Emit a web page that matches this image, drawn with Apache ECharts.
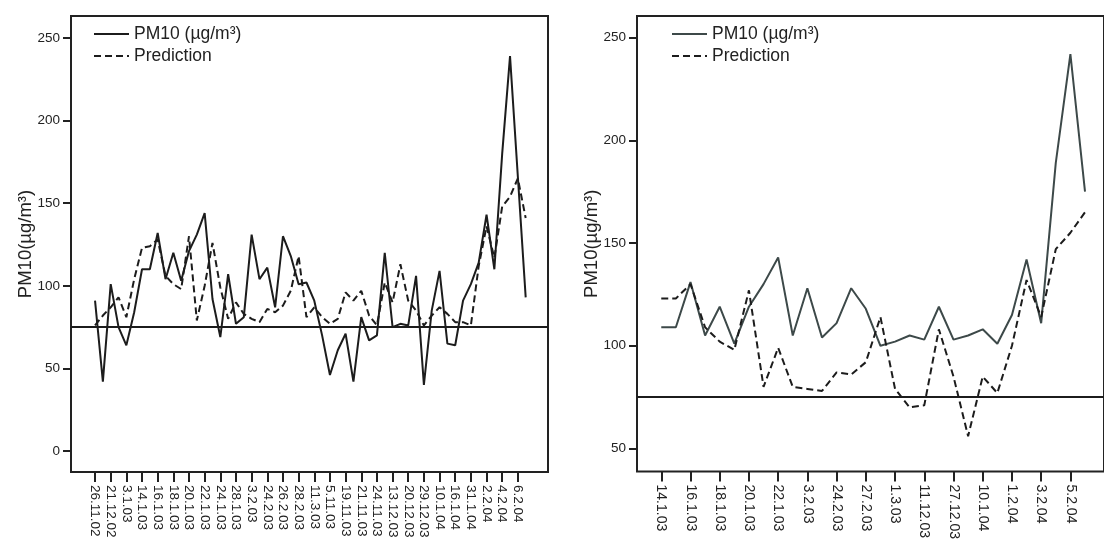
<!DOCTYPE html>
<html>
<head>
<meta charset="utf-8">
<script src="https://cdn.jsdelivr.net/npm/echarts@6/dist/echarts.min.js"></script>
<style>
html,body{margin:0;padding:0;background:#fff;}
#c{width:1104px;height:542px;}
</style>
</head>
<body>
<div id="c"></div>
<script>
// ---------- data ----------
const leftLabels = ['26.11.02','21.12.02','3.1.03','14.1.03','16.1.03','18.1.03','20.1.03','22.1.03','24.1.03','28.1.03','3.2.03','24.2.03','26.2.03','28.2.03','11.3.03','5.11.03','19.11.03','21.11.03','24.11.03','13.12.03','20.12.03','29.12.03','10.1.04','16.1.04','31.1.04','2.2.04','4.2.04','6.2.04'];
const leftPM10 = [91,42,101,75,64,84,110,110,132,104,120,103,121,131,144,92,69,107,77,81,131,104,111,87,130,118,101,102,91,70,46,61,71,42,81,67,70,120,75,77,76,106,40,85,109,65,64,91,101,114,143,110,180,239,166,93];
const leftPred = [76,82,87,93,81,104,123,124,128,106,101,98,130,79,100,126,99,80,90,83,80,78,86,84,88,97,118,81,87,81,77,80,96,91,97,82,76,102,90,113,91,85,76,82,87,83,78,78,76,112,136,117,148,154,165,141];

const rightLabels = ['14.1.03','16.1.03','18.1.03','20.1.03','22.1.03','3.2.03','24.2.03','27.2.03','1.3.03','11.12.03','27.12.03','10.1.04','1.2.04','3.2.04','5.2.04'];
const rightPM10 = [109,109,131,105,119,101,119,130,143,105,128,104,111,128,118,100,102,105,103,119,103,105,108,101,115,142,111,189,242,175];
const rightPred = [123,123,130,109,102,98,127,80,99,80,79,78,87,86,92,114,79,70,71,108,85,56,85,77,100,132,114,147,155,165];

const yTicksLeft = [0,50,100,150,200,250];
const yTicksRight = [50,100,150,200,250];
const limitValue = 75;

// ---------- helpers ----------
const toXY = arr => arr.map((v,i)=>[i,v]);
const evenIdx = n => Array.from({length:n},(_,k)=>k*2);

const axisColor = '#222';
const font = 'Liberation Sans, Arial, sans-serif';

function xAxisCfg(gridIndex, labels, min, max, fs){
  const ticks = evenIdx(labels.length);
  return {
    type:'value', gridIndex, min, max, position:'bottom',
    splitLine:{show:false},
    axisLine:{show:false, onZero:false},
    axisTick:{show:true, inside:false, customValues:ticks, length:10, lineStyle:{color:axisColor,width:2}},
    axisLabel:{show:true, customValues:ticks, rotate:-90, margin:13,
      fontSize:fs, color:'#222', fontFamily:font,
      formatter:(v)=>labels[Math.round(v/2)] || ''}
  };
}
function yAxisCfg(gridIndex, ticks, min, max){
  return {
    type:'value', gridIndex, min, max, position:'left',
    name:'PM10(µg/m³)', nameLocation:'middle', nameRotate:90, nameGap:36, nameMoveOverlap:false,
    nameTextStyle:{fontSize:18.5, color:'#222', fontFamily:font},
    splitLine:{show:false},
    axisLine:{show:false, onZero:false},
    axisTick:{show:true, inside:false, customValues:ticks, length:8, lineStyle:{color:axisColor,width:2}},
    axisLabel:{show:true, customValues:ticks, margin:11, fontSize:13.5, color:'#222', fontFamily:font}
  };
}

const solidL = '#1c1c1c';
const solidR = '#3d4949';
const dashC = '#1c1c1c';
const hiddenSym = {opacity:0};

function legendCfg(left, names, solidColor){
  return {orient:'vertical', left, top:25, padding:0, itemWidth:35, itemHeight:18, itemGap:4,
    textStyle:{fontSize:17.5, color:'#222', fontFamily:font}, selectedMode:false,
    data:[
      {name:names[0], itemStyle:hiddenSym, lineStyle:{color:solidColor, width:2, type:'solid'}},
      {name:names[1], itemStyle:hiddenSym, lineStyle:{color:dashC, width:2, type:[7,4]}}
    ]};
}

const option = {
  animation:false,
  backgroundColor:'#fff',
  grid:[
    {left:71, right:556, top:16, bottom:70, show:true, borderColor:axisColor, borderWidth:2, backgroundColor:'transparent'},
    {left:637, right:-10, top:16, bottom:69, show:true, borderColor:axisColor, borderWidth:2, backgroundColor:'transparent'}
  ],
  xAxis:[ xAxisCfg(0, leftLabels, -3.07, 57.85, 13.5), xAxisCfg(1, rightLabels, -1.66, 30.3, 14) ],
  yAxis:[ yAxisCfg(0, yTicksLeft, -12.7, 263.3), yAxisCfg(1, yTicksRight, 38.8, 260.5) ],
  legend:[
    legendCfg(93, ['PM10 (µg/m³)','Prediction'], solidL),
    legendCfg(671, ['PM10 (µg/m³) ','Prediction '], solidR)
  ],
  series:[
    {name:'PM10 (µg/m³)', type:'line', xAxisIndex:0, yAxisIndex:0, data:toXY(leftPM10),
     showSymbol:false, symbol:'none', lineStyle:{color:solidL, width:2}, itemStyle:{color:solidL},
     markLine:{silent:true, symbol:'none', label:{show:false},
       lineStyle:{color:'#1c1c1c', width:2, type:'solid'}, data:[{yAxis:limitValue}]}},
    {name:'Prediction', type:'line', xAxisIndex:0, yAxisIndex:0, data:toXY(leftPred),
     showSymbol:false, symbol:'none', lineStyle:{color:dashC, width:2, type:[7,4]}, itemStyle:{color:dashC}},
    {name:'PM10 (µg/m³) ', type:'line', xAxisIndex:1, yAxisIndex:1, data:toXY(rightPM10),
     showSymbol:false, symbol:'none', lineStyle:{color:solidR, width:2}, itemStyle:{color:solidR},
     markLine:{silent:true, symbol:'none', label:{show:false},
       lineStyle:{color:'#1c1c1c', width:2, type:'solid'}, data:[{yAxis:limitValue}]}},
    {name:'Prediction ', type:'line', xAxisIndex:1, yAxisIndex:1, data:toXY(rightPred),
     showSymbol:false, symbol:'none', lineStyle:{color:dashC, width:2, type:[7,4]}, itemStyle:{color:dashC}}
  ]
};
const chart = echarts.init(document.getElementById('c'), null, {renderer:'canvas'});
chart.setOption(option);
</script>
</body>
</html>
